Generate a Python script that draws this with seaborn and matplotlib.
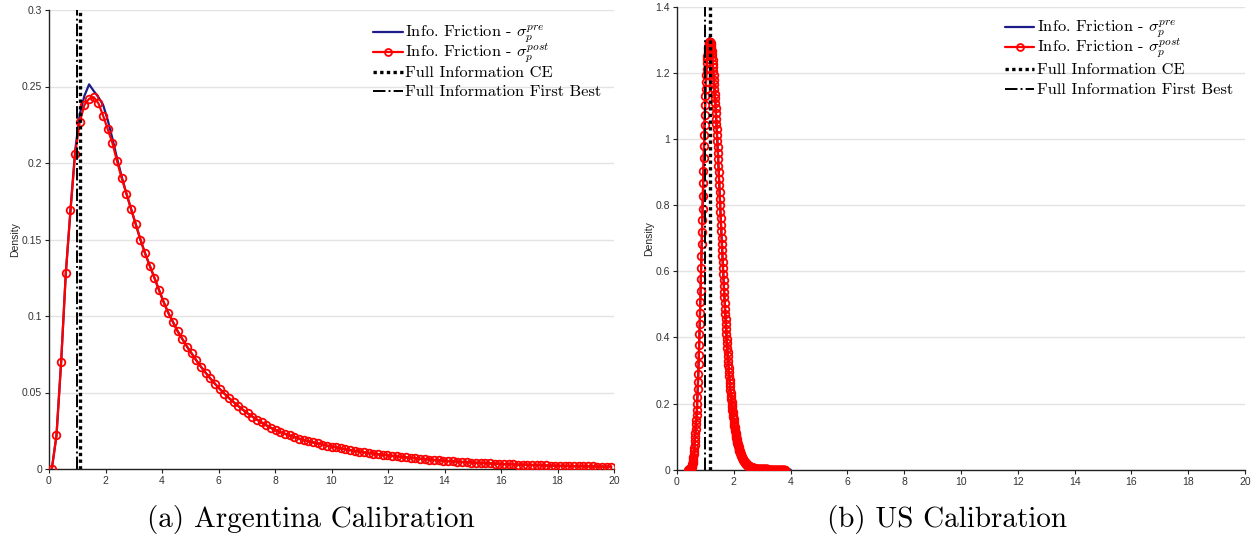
import numpy as np
import pandas as pd
import matplotlib
matplotlib.use("Agg")
import matplotlib.pyplot as plt
from matplotlib.lines import Line2D
import seaborn as sns

# ---------------- data ----------------
# (a) Argentina calibration: grid x = 0.1 + 0.165 k, k = 0..120
arg_x_start, arg_x_step = 0.1, 0.165
arg_post = [
    0.000, 0.022, 0.070, 0.128, 0.169, 0.206, 0.227, 0.238, 0.242, 0.243,
    0.239, 0.231, 0.222, 0.213, 0.201, 0.190, 0.180, 0.170, 0.160, 0.150,
    0.141, 0.133, 0.125, 0.117, 0.109, 0.102, 0.096, 0.090, 0.085, 0.080,
    0.0755, 0.0710, 0.0668, 0.0629, 0.0592, 0.0557, 0.0524, 0.0493, 0.0464, 0.0437,
    0.0411, 0.0387, 0.0364, 0.0343, 0.0323, 0.0304, 0.0286, 0.0269, 0.0253, 0.0241,
    0.0230, 0.0219, 0.0209, 0.0199, 0.0190, 0.0182, 0.0174, 0.0167, 0.0160, 0.0153,
    0.0147, 0.0141, 0.0135, 0.0129, 0.0124, 0.0118, 0.0113, 0.0109, 0.0105, 0.0100,
    0.0096, 0.0093, 0.0089, 0.0086, 0.0082, 0.0079, 0.0076, 0.0073, 0.0070, 0.0067,
    0.0064, 0.0062, 0.0059, 0.0057, 0.0054, 0.0052, 0.0050, 0.0048, 0.0046, 0.0044,
    0.0042, 0.0041, 0.0039, 0.0038, 0.0036, 0.0035, 0.0033, 0.0032, 0.0031, 0.0030,
    0.0029, 0.0028, 0.0027, 0.0026, 0.0025, 0.0024, 0.0023, 0.0022, 0.0021, 0.0021,
    0.0020, 0.0019, 0.0019, 0.0018, 0.0018, 0.0017, 0.0017, 0.0016, 0.0016, 0.0015,
    0.0015,
]
arg_pre = [
    0.000, 0.022, 0.070, 0.128, 0.169, 0.208, 0.232, 0.244, 0.2514, 0.247,
    0.243, 0.238, 0.228, 0.216, 0.203, 0.191, 0.180, 0.170, 0.160, 0.150,
    0.141, 0.133, 0.125, 0.117, 0.109, 0.102, 0.096, 0.090, 0.085, 0.080,
    0.0755, 0.0710, 0.0668, 0.0629, 0.0592, 0.0557, 0.0524, 0.0493, 0.0464, 0.0437,
    0.0411, 0.0387, 0.0364, 0.0343, 0.0323, 0.0304, 0.0286, 0.0269, 0.0253, 0.0241,
    0.0230, 0.0219, 0.0209, 0.0199, 0.0190, 0.0182, 0.0174, 0.0167, 0.0160, 0.0153,
    0.0147, 0.0141, 0.0135, 0.0129, 0.0124, 0.0118, 0.0113, 0.0109, 0.0105, 0.0100,
    0.0096, 0.0093, 0.0089, 0.0086, 0.0082, 0.0079, 0.0076, 0.0073, 0.0070, 0.0067,
    0.0064, 0.0062, 0.0059, 0.0057, 0.0054, 0.0052, 0.0050, 0.0048, 0.0046, 0.0044,
    0.0042, 0.0041, 0.0039, 0.0038, 0.0036, 0.0035, 0.0033, 0.0032, 0.0031, 0.0030,
    0.0029, 0.0028, 0.0027, 0.0026, 0.0025, 0.0024, 0.0023, 0.0022, 0.0021, 0.0021,
    0.0020, 0.0019, 0.0019, 0.0018, 0.0018, 0.0017, 0.0017, 0.0016, 0.0016, 0.0015,
    0.0015,
]
arg_ce, arg_fb = 1.11, 1.00

# (b) US calibration: post grid x = 0.40 + 0.01 k ; pre grid x = 0.40 + 0.05 k
us_post_start, us_post_step = 0.40, 0.01
us_post = [
    0.000, 0.000, 0.000, 0.000, 0.001, 0.001, 0.001, 0.002, 0.002, 0.003,
    0.004, 0.006, 0.009, 0.012, 0.016, 0.020, 0.026, 0.032, 0.039, 0.047,
    0.055, 0.065, 0.075, 0.086, 0.098, 0.110, 0.123, 0.137, 0.151, 0.165,
    0.180, 0.200, 0.221, 0.243, 0.266, 0.290, 0.319, 0.348, 0.378, 0.409,
    0.440, 0.474, 0.508, 0.542, 0.576, 0.610, 0.646, 0.682, 0.718, 0.754,
    0.790, 0.828, 0.866, 0.904, 0.942, 0.980, 1.012, 1.043, 1.073, 1.102,
    1.130, 1.152, 1.173, 1.193, 1.212, 1.230, 1.242, 1.253, 1.263, 1.272,
    1.280, 1.285, 1.289, 1.292, 1.294, 1.295, 1.295, 1.293, 1.291, 1.286,
    1.280, 1.273, 1.266, 1.258, 1.249, 1.240, 1.229, 1.218, 1.206, 1.193,
    1.180, 1.166, 1.152, 1.138, 1.124, 1.110, 1.094, 1.078, 1.062, 1.046,
    1.030, 1.012, 0.994, 0.976, 0.958, 0.940, 0.920, 0.900, 0.880, 0.860,
    0.840, 0.820, 0.800, 0.780, 0.760, 0.740, 0.721, 0.702, 0.683, 0.664,
    0.645, 0.627, 0.609, 0.591, 0.573, 0.555, 0.538, 0.521, 0.504, 0.487,
    0.470, 0.455, 0.440, 0.425, 0.410, 0.395, 0.382, 0.369, 0.356, 0.343,
    0.330, 0.318, 0.307, 0.295, 0.284, 0.272, 0.262, 0.252, 0.242, 0.232,
    0.222, 0.214, 0.205, 0.197, 0.188, 0.180, 0.173, 0.166, 0.159, 0.152,
    0.145, 0.139, 0.133, 0.128, 0.122, 0.116, 0.111, 0.106, 0.102, 0.097,
    0.092, 0.088, 0.084, 0.081, 0.077, 0.073, 0.070, 0.067, 0.063, 0.060,
    0.057, 0.055, 0.052, 0.050, 0.047, 0.045, 0.043, 0.041, 0.039, 0.037,
    0.035, 0.033, 0.032, 0.030, 0.029, 0.027, 0.026, 0.025, 0.023, 0.022,
    0.021, 0.020, 0.019, 0.018, 0.017, 0.016, 0.015, 0.015, 0.014, 0.013,
    0.012, 0.0115, 0.011, 0.0105, 0.010, 0.0095, 0.009, 0.0085, 0.008, 0.0075,
    0.007, 0.0067, 0.0064, 0.0061, 0.0058, 0.0055, 0.0052, 0.0049, 0.0046, 0.0043,
    0.004, 0.0038, 0.0036, 0.0034, 0.0032, 0.003, 0.0028, 0.0026, 0.0024, 0.0022,
    0.002, 0.0019, 0.0018, 0.0017, 0.0016, 0.0015, 0.0014, 0.0013, 0.0012, 0.0011,
    0.001, 0.00095, 0.0009, 0.00085, 0.0008, 0.00075, 0.0007, 0.00065, 0.0006, 0.00055,
    0.0005, 0.0005, 0.0005, 0.0005, 0.0005, 0.0004, 0.0004, 0.0004, 0.0004, 0.0004,
    0.0004, 0.0004, 0.0004, 0.0004, 0.0004, 0.0004, 0.0004, 0.0004, 0.0004, 0.0004,
    0.0003, 0.0003, 0.0003, 0.0003, 0.0003, 0.0003, 0.0003, 0.0003, 0.0003, 0.0003,
    0.0003, 0.0003, 0.0003, 0.0003, 0.0003, 0.0003, 0.0003, 0.0003, 0.0003, 0.0003,
    0.0002, 0.0002, 0.0002, 0.0002, 0.0002, 0.0002, 0.0002, 0.0002, 0.0002, 0.0002,
    0.0002, 0.0002, 0.0002, 0.0002, 0.0002, 0.0002, 0.0002, 0.0002, 0.0002, 0.0002,
    0.0001, 0.0001, 0.0001, 0.0001, 0.0001, 0.0001, 0.0001, 0.0001, 0.0001, 0.0001,
    0.0001, 0.0001, 0.0001, 0.0001, 0.0001, 0.0001, 0.0001, 0.0001, 0.0001, 0.0001,
    0.0001,
]
us_pre_start, us_pre_step = 0.40, 0.05
us_pre = [
    0.000, 0.001, 0.004, 0.020, 0.055, 0.110, 0.180, 0.290, 0.440, 0.610,
    0.790, 0.980, 1.130, 1.235, 1.285, 1.310, 1.280, 1.240, 1.180, 1.110,
    1.030, 0.940, 0.840, 0.740, 0.645, 0.555, 0.470, 0.395, 0.330, 0.272,
    0.222, 0.180, 0.145, 0.116, 0.092, 0.073, 0.057, 0.045, 0.035, 0.027,
    0.021, 0.016, 0.012, 0.0095, 0.007, 0.0055, 0.004, 0.003, 0.002, 0.0015,
    0.001, 0.0007, 0.0005, 0.0004, 0.0004, 0.0004, 0.0003, 0.0003, 0.0003, 0.0003,
    0.0003, 0.0002, 0.0002, 0.0002, 0.0002, 0.0002, 0.0001, 0.0001, 0.0001, 0.0001,
    0.0001, 0.0001, 0.0001,
]
us_ce, us_fb = 1.17, 1.00

x_ticks = [0, 2, 4, 6, 8, 10, 12, 14, 16, 18, 20]
arg_yticks = [0, 0.05, 0.1, 0.15, 0.2, 0.25, 0.3]
arg_ylabels = ["0", "0.05", "0.1", "0.15", "0.2", "0.25", "0.3"]
us_yticks = [0, 0.2, 0.4, 0.6, 0.8, 1.0, 1.2, 1.4]
us_ylabels = ["0", "0.2", "0.4", "0.6", "0.8", "1", "1.2", "1.4"]

labels = [r"Info. Friction - $\sigma_p^{pre}$",
          r"Info. Friction - $\sigma_p^{post}$",
          "Full Information CE",
          "Full Information First Best"]
captions = ["(a) Argentina Calibration", "(b) US Calibration"]

# ---------------- style ----------------
sns.set_theme(style="white")
plt.rcParams["font.family"] = ["Liberation Sans", "DejaVu Sans"]
plt.rcParams["mathtext.fontset"] = "cm"

W, H = 1257, 539
fig = plt.figure(figsize=(W / 100, H / 100), dpi=100)
axA = fig.add_axes([49 / W, 1 - 469 / H, (614 - 49) / W, (469 - 10) / H])
axB = fig.add_axes([677 / W, 1 - 469.6 / H, (1245 - 677) / W, (469.6 - 7) / H])

BLUE = "#1c1c8a"
RED = "#ff0000"
LEG_FS = 11.8


def grid_x(start, step, n):
    return np.round(start + step * np.arange(n), 4)


def fx(px):
    return px / W


def fy(py):
    return 1 - py / H


def key(x0, x1, rows, text_x):
    """Legend rows drawn as figure artists (pixel positions of the reference)."""
    styles = [
        dict(color=BLUE, lw=1.6, ls="-"),
        dict(color=RED, lw=1.6, ls="-", marker="o", markersize=5, markerfacecolor="none",
             markeredgecolor=RED, markeredgewidth=1.3, markevery=[1]),
        dict(color="black", lw=2.4, ls=(0, (1, 1))),
        dict(color="black", lw=1.4, ls="-."),
    ]
    for lab, y, st in zip(labels, rows, styles):
        ln = Line2D([fx(x0), fx((x0 + x1) / 2), fx(x1)], [fy(y)] * 3,
                    transform=fig.transFigure, **st)
        fig.add_artist(ln)
        fig.text(fx(text_x), fy(y + 5.2), lab, family="cmr10", fontsize=LEG_FS,
                 ha="left", va="baseline", color="black")


def panel(ax, xpre, ypre, xpost, ypost, ce, fb, yticks, ylabels, ymax):
    dpre = pd.DataFrame({"x": xpre, "y": ypre})
    dpost = pd.DataFrame({"x": xpost, "y": ypost})
    sns.lineplot(data=dpre, x="x", y="y", ax=ax, color=BLUE, lw=1.6,
                 estimator=None, sort=False, zorder=3, legend=False)
    sns.lineplot(data=dpost, x="x", y="y", ax=ax, color=RED, lw=1.6,
                 marker="o", markersize=5.5, markerfacecolor="none",
                 markeredgecolor=RED, markeredgewidth=1.3,
                 estimator=None, sort=False, zorder=4, legend=False)
    ax.axvline(ce, color="black", ls=(0, (1, 1)), lw=2.4, zorder=5)
    ax.axvline(fb, color="black", ls="-.", lw=1.4, zorder=5)

    ax.set_xlim(0, 20)
    ax.set_ylim(0, ymax)
    ax.set_xticks(x_ticks)
    ax.set_xticklabels([str(t) for t in x_ticks])
    ax.set_yticks(yticks)
    ax.set_yticklabels(ylabels)
    ax.set_xlabel("")
    ax.set_ylabel("Density", fontsize=7.5, color="#262626", labelpad=1)
    ax.yaxis.grid(True, color="#e3e3e3", lw=1.0)
    ax.xaxis.grid(False)
    ax.set_axisbelow(True)
    for s in ["top", "right"]:
        ax.spines[s].set_visible(False)
    for s in ["left", "bottom"]:
        ax.spines[s].set_color("#222222")
        ax.spines[s].set_linewidth(1.0)
    ax.tick_params(axis="both", which="major", bottom=True, left=True,
                   direction="out", length=3, width=0.8, color="#222222",
                   labelsize=7.5, labelcolor="#333333", pad=2)


panel(axA, grid_x(arg_x_start, arg_x_step, len(arg_pre)), arg_pre,
      grid_x(arg_x_start, arg_x_step, len(arg_post)), arg_post,
      arg_ce, arg_fb, arg_yticks, arg_ylabels, 0.3)
panel(axB, grid_x(us_pre_start, us_pre_step, len(us_pre)), us_pre,
      grid_x(us_post_start, us_post_step, len(us_post)), us_post,
      us_ce, us_fb, us_yticks, us_ylabels, 1.4)

key(373, 403, [31.5, 51.5, 71.5, 91.0], 405)
key(1005, 1034, [26.5, 46.5, 69.0, 89.0], 1037)

fig.text(fx(311), fy(519), captions[0], family="cmr10", fontsize=21,
         ha="center", va="center", color="black")
fig.text(fx(947), fy(519), captions[1], family="cmr10", fontsize=21,
         ha="center", va="center", color="black")

fig.savefig("out.png", dpi=100)
